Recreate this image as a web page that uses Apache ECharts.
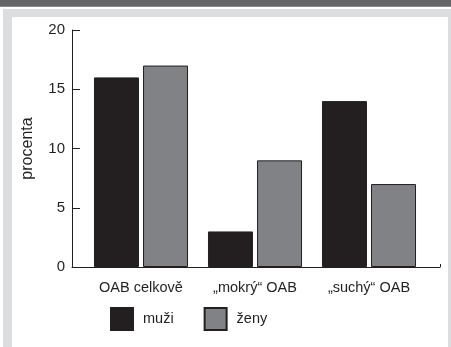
<!DOCTYPE html>
<html><head><meta charset="utf-8">
<script src="https://cdn.jsdelivr.net/npm/echarts@6/dist/echarts.min.js"></script>
<style>html,body{margin:0;padding:0;background:#fff}#c{width:451px;height:347px}</style>
</head><body><div id="c"></div>
<script>
const categories = ['OAB celkově', '„mokrý“ OAB', '„suchý“ OAB'];
const muzi = [16, 3, 14];
const zeny = [17, 9, 7];
const yTicks = [0, 5, 10, 15, 20];

const ink = '#231f20';
const font = '"Liberation Sans", Arial, sans-serif';
const chart = echarts.init(document.getElementById('c'));
chart.setOption({
  backgroundColor: '#ffffff',
  animation: false,
  graphic: [
    {type:'rect', shape:{x:0,y:0,width:451,height:6}, style:{fill:'#646567'}, z:-10},
    {type:'rect', shape:{x:0,y:6,width:451,height:1}, style:{fill:'#8a8b8d'}, z:-10},
    {type:'rect', shape:{x:3,y:9,width:448,height:338}, style:{fill:'#dcdddf'}, z:-10},
    {type:'rect', shape:{x:12,y:17,width:436,height:330}, style:{fill:'#ffffff'}, z:-9}
  ],
  textStyle: {fontFamily: font},
  grid: [
    {left:72, right:11, top:30, bottom:80},
    {left:84, right:25, top:30, bottom:80}
  ],
  legend: {
    left: 110, top: 307, padding: 0,
    itemWidth: 22, itemHeight: 22, itemGap: 30,
    icon: 'rect',
    textStyle: {fontSize: 14.5, color: ink, fontFamily: font, padding:[0,0,0,5]},
    data: ['muži', 'ženy']
  },
  xAxis: [
    {gridIndex:0, type:'value', min:0, max:1, interval:1,
     axisLine:{show:true, lineStyle:{color:ink, width:1}},
     axisTick:{show:true, inside:true, length:3, lineStyle:{color:ink}},
     axisLabel:{show:false}, splitLine:{show:false}},
    {gridIndex:1, type:'category', data: categories,
     axisLine:{show:false}, axisTick:{show:false},
     axisLabel:{interval:0, hideOverlap:false, margin:13, fontSize:14.5, color:ink, fontFamily:font}}
  ],
  yAxis: [
    {gridIndex:0, type:'value', min:0, max:20, interval:5,
     name:'procenta', nameLocation:'middle', nameGap:36,
     nameTextStyle:{fontSize:16, color:ink, fontFamily:font},
     axisLine:{show:true, lineStyle:{color:ink, width:1}},
     axisTick:{show:true, inside:true, length:8, lineStyle:{color:ink}},
     axisLabel:{margin:7, fontSize:15, color:ink, fontFamily:font,
       formatter: v => yTicks.includes(v) ? String(v) : ''},
     splitLine:{show:false}},
    {gridIndex:1, type:'value', min:0, max:20, interval:5, show:false}
  ],
  series: [
    {name:'muži', type:'bar', xAxisIndex:1, yAxisIndex:1, data: muzi,
     barWidth:45, barGap:'9%',
     itemStyle:{color:ink, borderColor:ink, borderWidth:1}},
    {name:'ženy', type:'bar', xAxisIndex:1, yAxisIndex:1, data: zeny,
     barWidth:45, barGap:'9%',
     itemStyle:{color:'#808285', borderColor:ink, borderWidth:1}}
  ]
});
</script></body></html>
